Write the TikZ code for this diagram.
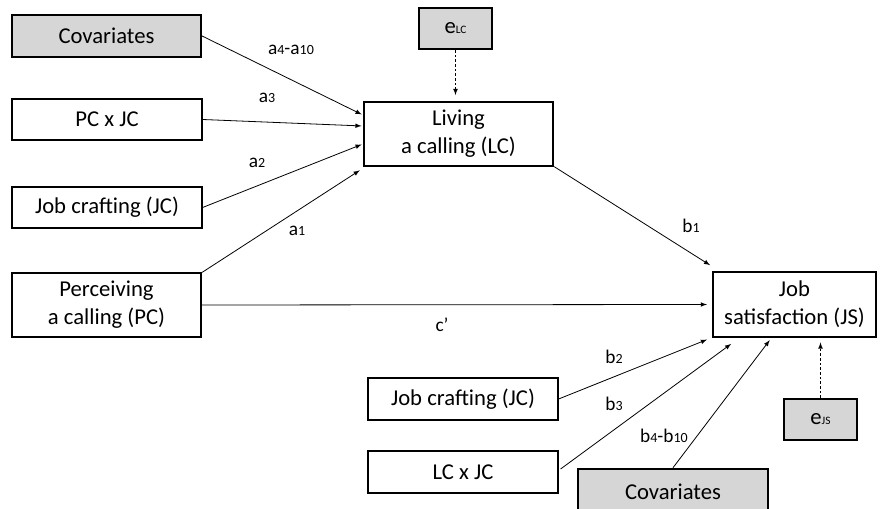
\documentclass[tikz,border=0pt]{standalone}
\usepackage{fontspec}
\setmainfont{Carlito}
\usetikzlibrary{calc}
\newcommand{\sbs}[1]{{\fontsize{10.5}{11}\selectfont #1}}
\newcommand{\esub}[1]{{\fontsize{8.5}{9}\selectfont #1}}

\begin{document}
\begin{tikzpicture}[x=0.75pt,y=-0.75pt,
box/.style={draw,line width=1.4pt,inner sep=0pt,align=center,minimum width=142pt,minimum height=31pt,font=\fontsize{17}{21}\selectfont},
tall/.style={box,minimum height=47.5pt},
grey/.style={fill=gray!32},
arr/.style={-latex,line width=0.6pt,shorten >=1pt},
err/.style={arr,dash pattern=on 2pt off 1.5pt},
lab/.style={inner sep=0pt,font=\fontsize{14.5}{16}\selectfont}]
\useasboundingbox (0,0) rectangle (883,509);
\clip (0,0) rectangle (883,509);

\node[box,grey] (covL) at (106.5,36) {Covariates};
\node[box] (pcjc) at (107,119.5) {PC x JC};
\node[box] (jcL) at (107,207.5) {Job crafting (JC)};
\node[tall] (pc) at (106.5,305) {Perceiving\\a calling (PC)};
\node[box,grey,minimum width=55pt] (eLC) at (455.5,28.5) {e\esub{LC}};
\node[tall] (lc) at (458.5,134) {Living\\a calling (LC)};
\node[tall,minimum width=122pt,minimum height=49pt] (js) at (794.5,304.5) {Job\\satisfaction (JS)};
\node[box] (jcB) at (463,399) {Job crafting (JC)};
\node[box] (lcjc) at (463,472) {LC x JC};
\node[box,grey,minimum height=35pt] (covB) at (673,492) {Covariates};
\node[box,grey,minimum width=55pt] (eJS) at (820.5,419.5) {e\esub{JS}};

\foreach \n/\dy in {covL/-19,pcjc/-8,jcL/10} {
\draw[arr] (\n.east) -- ($(lc.west)+(0,\dy)$);
}
\draw[arr] (pc.north east) -- ($(lc.south west)+(-2,3)$);
\draw[err] (eLC.south) -- ($(eLC.south |- lc.north)+(0,-5)$);

\draw[arr] (lc.south east) -- ($(js.north west)+(-1,-5)$);
\draw[arr] (pc.east) -- ($(js.west)+(-4,0)$);
\draw[arr] (jcB.east) -- ($(js.south west)+(-4,1)$);
\draw[arr] ($(lcjc.east)+(2,-3)$) -- ($(js.south west)+(20,5)$);
\draw[arr] (covB.north) -- ($(js.south)+(-24,1)$);
\draw[err] (eJS.north) -- ($(eJS.north |- js.south)+(0,3)$);

\node[lab] (la4) at (291,50) {a\sbs{4}-a\sbs{10}};
\node[lab] (la3) at (267,98) {a\sbs{3}};
\node[lab] (la2) at (257,163) {a\sbs{2}};
\node[lab] (la1) at (297,231) {a\sbs{1}};
\node[lab] (lb1) at (691,226) {b\sbs{1}};
\node[lab] (lc1) at (442,325) {c’};
\node[lab] (lb2) at (614,357) {b\sbs{2}};
\node[lab] (lb3) at (614,404) {b\sbs{3}};
\node[lab] (lb4) at (664,436) {b\sbs{4}-b\sbs{10}};
\end{tikzpicture}
\end{document}
